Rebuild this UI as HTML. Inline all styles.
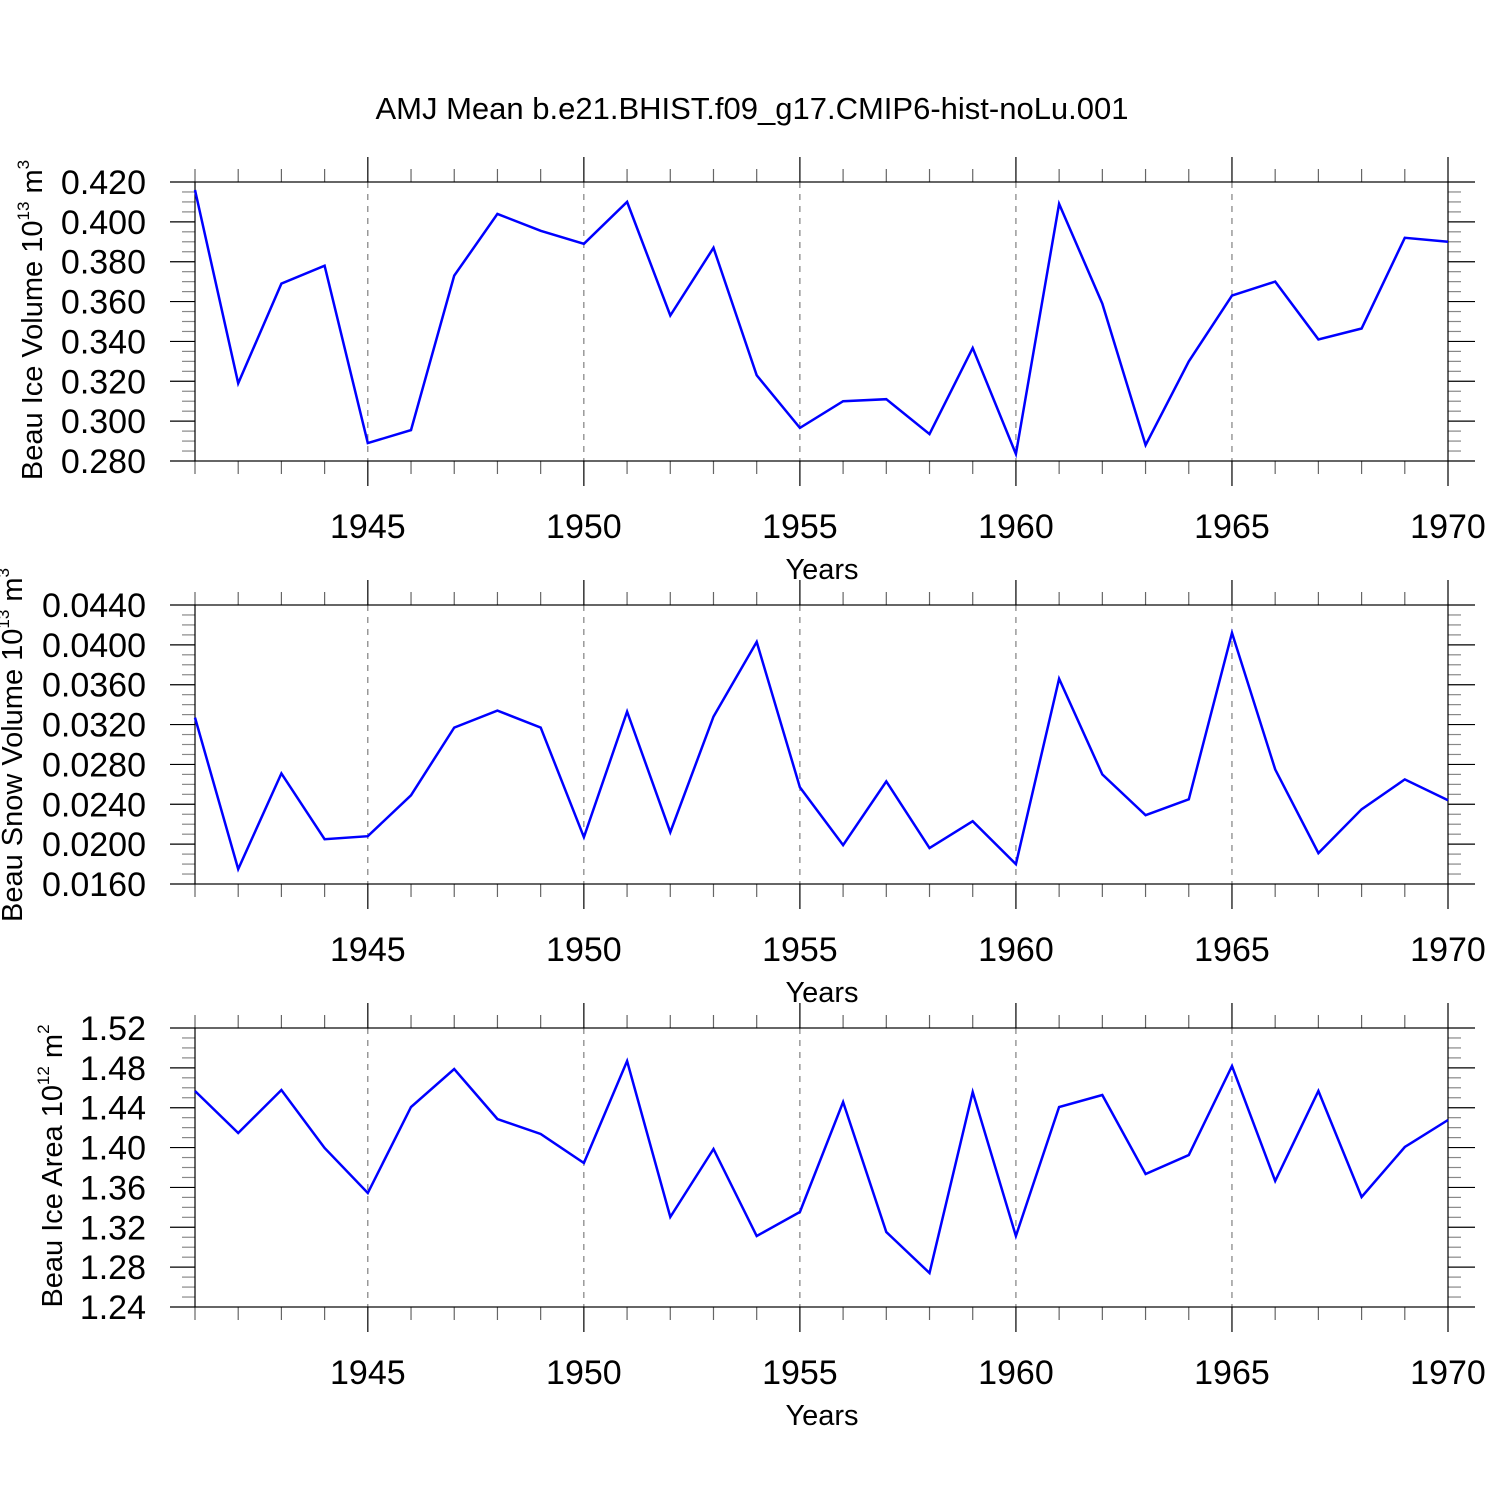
<!DOCTYPE html>
<html><head><meta charset="utf-8"><style>
html,body{margin:0;padding:0;background:#fff;}
svg{display:block;font-family:"Liberation Sans",Arial,sans-serif;}
</style></head><body>
<svg id="chart" width="1500" height="1500" viewBox="0 0 1500 1500" xmlns="http://www.w3.org/2000/svg">
<rect width="1500" height="1500" fill="#fff"/>
<text x="752" y="119" font-size="31" text-anchor="middle">AMJ Mean b.e21.BHIST.f09_g17.CMIP6-hist-noLu.001</text>
</svg>
<script>
const years = [1941,1942,1943,1944,1945,1946,1947,1948,1949,1950,1951,1952,1953,1954,1955,1956,1957,1958,1959,1960,1961,1962,1963,1964,1965,1966,1967,1968,1969,1970];
const iceVolume = [0.416,0.319,0.369,0.378,0.289,0.2955,0.373,0.404,0.3955,0.389,0.410,0.353,0.387,0.323,0.2966,0.310,0.311,0.2935,0.3367,0.2835,0.409,0.359,0.288,0.330,0.363,0.370,0.341,0.3465,0.392,0.390];
const snowVolume = [0.0327,0.0175,0.0271,0.0205,0.0208,0.0249,0.0317,0.0334,0.0317,0.0207,0.0333,0.0212,0.0328,0.0403,0.0257,0.0199,0.0263,0.0196,0.0223,0.0180,0.0366,0.0270,0.0229,0.0245,0.0412,0.0275,0.0191,0.0235,0.0265,0.0244];
const iceArea = [1.4568,1.4146,1.4578,1.3996,1.3544,1.4407,1.4789,1.4287,1.4136,1.3845,1.4869,1.3303,1.3986,1.3113,1.3353,1.4457,1.3153,1.2741,1.4558,1.3113,1.4407,1.4528,1.3735,1.3925,1.4819,1.3665,1.4568,1.3504,1.4006,1.4277];
const xTickYears = [1945,1950,1955,1960,1965,1970];
const iceVolTicks = ["0.280","0.300","0.320","0.340","0.360","0.380","0.400","0.420"];
const snowVolTicks = ["0.0160","0.0200","0.0240","0.0280","0.0320","0.0360","0.0400","0.0440"];
const iceAreaTicks = ["1.24","1.28","1.32","1.36","1.40","1.44","1.48","1.52"];

const NS="http://www.w3.org/2000/svg";
const svg=document.getElementById('chart');
function mk(tag,attrs,parent){const e=document.createElementNS(NS,tag);for(const k in attrs)e.setAttribute(k,attrs[k]);(parent||svg).appendChild(e);return e;}
const X0=195,X1=1448;
const xScale=y=>X0+(y-1941)*(X1-X0)/(1970-1941);

const panels=[
 {name:'ice-volume',top:182,bot:461,data:iceVolume,ticks:iceVolTicks,titleX:32,titleY:320,title:['Beau Ice Volume 10','13',' m','3']},
 {name:'snow-volume',top:605,bot:884,data:snowVolume,ticks:snowVolTicks,titleX:12,titleY:745,title:['Beau Snow Volume 10','13',' m','3']},
 {name:'ice-area',top:1028,bot:1307,data:iceArea,ticks:iceAreaTicks,titleX:52,titleY:1166,title:['Beau Ice Area 10','12',' m','2']}
];
panels.forEach(p=>{
 const g=mk('g',{});
 
 
 const vmin=+p.ticks[0],vmax=+p.ticks[p.ticks.length-1];
 const yS=v=>p.bot-(v-vmin)*(p.bot-p.top)/(vmax-vmin);
 xTickYears.forEach(yr=>{if(yr<1970){const l=mk('line',{x1:xScale(yr),x2:xScale(yr),y1:p.top,y2:p.bot,stroke:'#666','stroke-width':1,'stroke-dasharray':'6,6'},g);}});
 for(let yr=1941;yr<=1970;yr++){
  const maj=xTickYears.includes(yr);const L=maj?25:13;const x=xScale(yr);
  mk('line',{x1:x,x2:x,y1:p.top,y2:p.top-L,stroke:maj?'#000':'#666','stroke-width':1.2},g);
  mk('line',{x1:x,x2:x,y1:p.bot,y2:p.bot+L,stroke:maj?'#000':'#666','stroke-width':1.2},g);
 }
 xTickYears.forEach(yr=>{const t=mk('text',{x:xScale(yr),y:p.bot+77,'font-size':34,'text-anchor':'middle'},g);t.textContent=yr;});
 const xt=mk('text',{x:822,y:p.bot+118,'font-size':29,'text-anchor':'middle'},g);xt.textContent='Years';
 
 
 const step=(vmax-vmin)/(p.ticks.length-1);
 for(let i=0;i<p.ticks.length;i++){
  const y=yS(+p.ticks[i]);
  mk('line',{x1:X0-25,x2:X0,y1:y,y2:y,stroke:'#000','stroke-width':1.2},g);
  mk('line',{x1:X1,x2:X1+27,y1:y,y2:y,stroke:'#000','stroke-width':1.2},g);
  if(i<p.ticks.length-1){for(let k=1;k<4;k++){const yy=yS(+p.ticks[i]+step*k/4);
   mk('line',{x1:X0-13,x2:X0,y1:yy,y2:yy,stroke:'#888','stroke-width':1.2},g);
   mk('line',{x1:X1,x2:X1+13,y1:yy,y2:yy,stroke:'#888','stroke-width':1.2},g);}}
  const t=mk('text',{x:146,y:y+12,'font-size':34,'text-anchor':'end'},g);t.textContent=p.ticks[i];
  
  
 }
 const fr=mk('rect',{x:X0,y:p.top,width:X1-X0,height:p.bot-p.top,fill:'none',stroke:'#000','stroke-width':1.2},g);
 
 
 const yt=mk('text',{transform:`translate(${p.titleX+10},${p.titleY}) rotate(-90)`,'font-size':29,'text-anchor':'middle'},g);
 
 
 const a=mk('tspan',{},yt);a.textContent=p.title[0];
 const b=mk('tspan',{dy:-13,'font-size':17},yt);b.textContent=p.title[1];
 const c=mk('tspan',{dy:13},yt);c.textContent=p.title[2];
 const d=mk('tspan',{dy:-13,'font-size':17},yt);d.textContent=p.title[3];
 const pts=p.data.map((v,i)=>xScale(years[i]).toFixed(1)+','+yS(v).toFixed(1)).join(' ');
 const pl=mk('polyline',{points:pts,fill:'none',stroke:'#0000ff','stroke-width':2.5,'stroke-linejoin':'miter'},g);
 
 
});
</script>
</body></html>
